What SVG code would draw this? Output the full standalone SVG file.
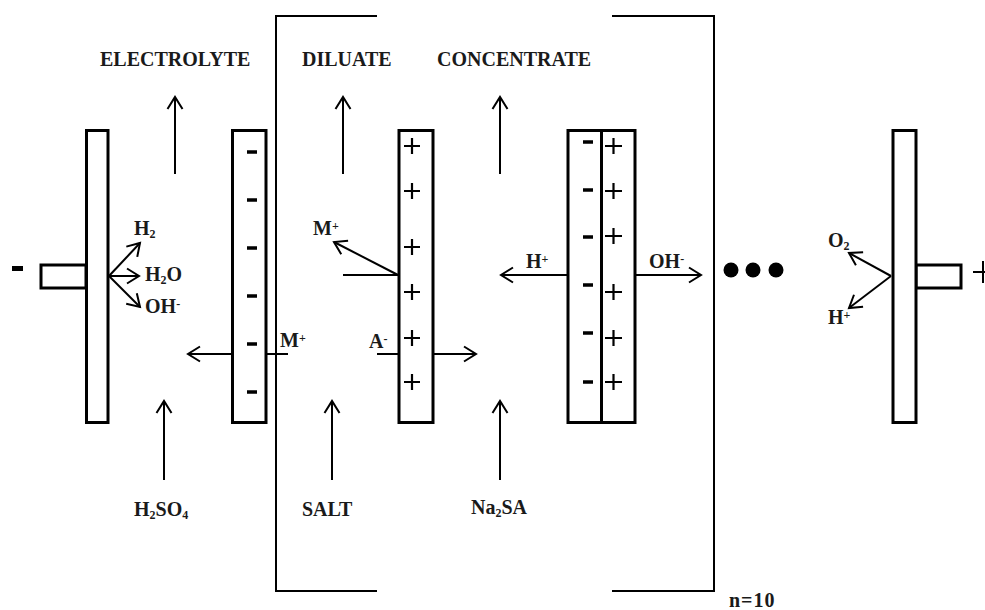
<svg xmlns="http://www.w3.org/2000/svg" width="985" height="610" viewBox="0 0 985 610">
<style>
.m{fill:#fff;stroke:#000;stroke-width:3}
.l{fill:none;stroke:#000;stroke-width:2.200}
.a{fill:none;stroke:#000;stroke-width:2;marker-end:url(#h)}
.c{fill:none;stroke:#000;stroke-width:2}
text{font-family:"Liberation Serif",serif;font-weight:bold;font-size:20px;fill:#1a1a1a}
.s{font-size:12px}
.d{stroke:#000;stroke-width:3.500;fill:none}
</style>
<defs>
<marker id="h" markerUnits="userSpaceOnUse" markerWidth="18" markerHeight="20" refX="14" refY="10" orient="auto">
<path d="M2 2.500L14 10L2 17.500" fill="none" stroke="#000" stroke-width="2"/>
</marker>
</defs>
<rect width="985" height="610" fill="#fff"/>
<g id="bracket">
<path class="c" d="M377 16H276V591H377"/>
<path class="c" d="M612 16H714V591H612"/>
</g>
<g id="cathode">
<rect class="m" x="41" y="265" width="45" height="23"/>
<rect class="m" x="86.500" y="130.500" width="21.500" height="292"/>
<path class="d" style="stroke-width:5" d="M12 268.500H23"/>
</g>
<g id="anode">
<rect class="m" x="916" y="265" width="45" height="23"/>
<rect class="m" x="893" y="130.500" width="23" height="292"/>
<path class="c" d="M973 272H985M983 261V283"/>
</g>
<g id="membrane-a">
<rect class="m" x="232.500" y="130.500" width="33.500" height="292"/>
<path class="d" d="M247 152H257M247 200H257M247 248H257M247 296H257M247 344H257M247 392H257"/>
</g>
<g id="membrane-c">
<rect class="m" x="399" y="130.500" width="34" height="292"/>
<path class="l" d="M404 146H420M412 138V154M404 191H420M412 183V199M404 247H420M412 239V255M404 292H420M412 284V300M404 338H420M412 330V346M404 382H420M412 374V390"/>
</g>
<g id="membrane-bipolar">
<rect class="m" x="568" y="130.500" width="67" height="292"/>
<path class="m" d="M601.500 130.500V422"/>
<path class="d" d="M583 142H593M583 190H593M583 237H593M583 285H593M583 333H593M583 382H593"/>
<path class="l" d="M605 146H622M613.500 138V154M605 191H622M613.500 183V199M605 236H622M613.500 228V244M605 292H622M613.500 284V300M605 338H622M613.500 330V346M605 382H622M613.500 374V390"/>
</g>
<g id="dots">
<circle cx="731" cy="270" r="7.500"/><circle cx="753" cy="270" r="7.500"/><circle cx="776" cy="270" r="7.500"/>
</g>
<g id="connectors">
<path class="a" d="M175 174V97"/>
<path class="a" d="M343 174V97"/>
<path class="a" d="M500 174V97"/>
<path class="a" d="M164 480V401"/>
<path class="a" d="M332 480V401"/>
<path class="a" d="M500 480V401"/>
<path class="a" d="M109 276L140 243"/>
<path class="a" d="M109 276H139"/>
<path class="a" d="M109 276L140 307"/>
<path class="a" d="M232 354H188"/>
<path class="c" d="M266 354H288"/>
<path class="c" d="M343 275H399"/>
<path class="a" d="M398 275L334 242"/>
<path class="c" d="M377 354H399"/>
<path class="a" d="M433 354H476"/>
<path class="a" d="M568 275H501"/>
<path class="a" d="M635 275H701"/>
<path class="a" d="M891 276L849 253"/>
<path class="a" d="M891 276L849 308"/>
</g>
<g id="labels">
<text x="100" y="66">ELECTROLYTE</text>
<text x="302" y="66">DILUATE</text>
<text x="437" y="66">CONCENTRATE</text>
<text x="134" y="235">H<tspan class="s" dy="3">2</tspan></text>
<text x="145" y="281">H<tspan class="s" dy="3">2</tspan><tspan dy="-3">O</tspan></text>
<text x="145" y="313">OH<tspan class="s" dy="-5">-</tspan></text>
<text x="280" y="347">M<tspan class="s" dy="-5">+</tspan></text>
<text x="313" y="235">M<tspan class="s" dy="-5">+</tspan></text>
<text x="369" y="348">A<tspan class="s" dy="-5">-</tspan></text>
<text x="526" y="268">H<tspan class="s" dy="-5">+</tspan></text>
<text x="649" y="268">OH<tspan class="s" dy="-5">-</tspan></text>
<text x="828" y="247">O<tspan class="s" dy="3">2</tspan></text>
<text x="828" y="324">H<tspan class="s" dy="-5">+</tspan></text>
<text x="134" y="516">H<tspan class="s" dy="3">2</tspan><tspan dy="-3">SO</tspan><tspan class="s" dy="3">4</tspan></text>
<text x="302" y="516">SALT</text>
<text x="471" y="514">Na<tspan class="s" dy="3">2</tspan><tspan dy="-3">SA</tspan></text>
<text x="729" y="607" letter-spacing="1">n=10</text>
</g>
</svg>
